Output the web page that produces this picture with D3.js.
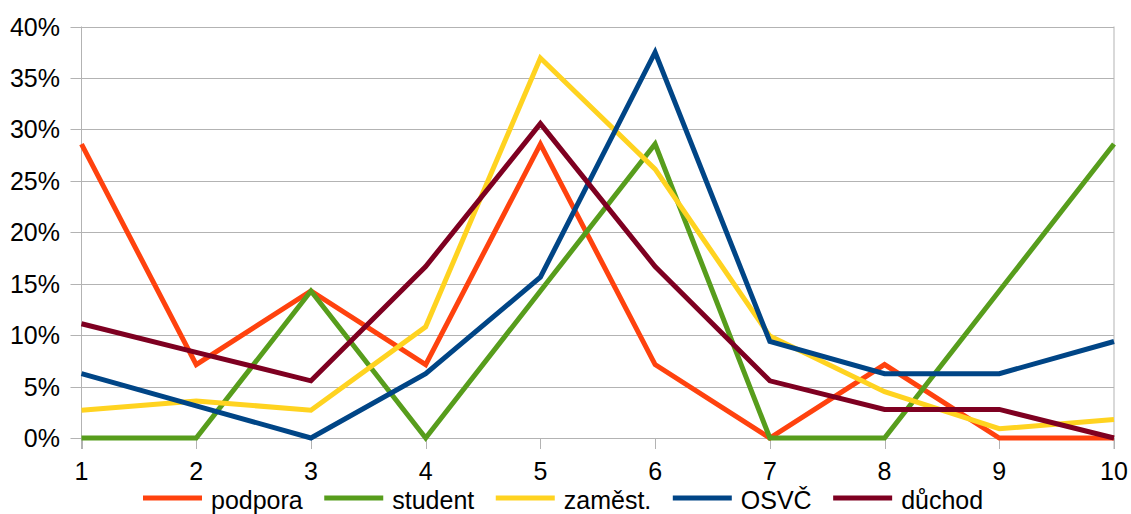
<!DOCTYPE html>
<html>
<head>
<meta charset="utf-8">
<script src="https://cdn.jsdelivr.net/npm/d3@7"></script>
<style>
  body { margin: 0; background: #fff; }
  svg { font-family: "Liberation Sans", Arial, sans-serif; }
</style>
</head>
<body>
<svg id="chart" width="1131" height="514"></svg>
<script>
// categories on the x axis
var categories = [1, 2, 3, 4, 5, 6, 7, 8, 9, 10];
// series values in percent
var podpora = [28.57, 7.14, 14.29, 7.14, 28.57, 7.14, 0, 7.14, 0, 0];
var student = [0, 0, 14.29, 0, 14.29, 28.57, 0, 0, 14.29, 28.57];
var zamest = [2.70, 3.60, 2.70, 10.81, 36.94, 26.13, 9.91, 4.50, 0.90, 1.80];
var osvc = [6.25, 3.13, 0, 6.25, 15.63, 37.5, 9.38, 6.25, 6.25, 9.38];
var duchod = [11.11, 8.33, 5.56, 16.67, 30.56, 16.67, 5.56, 2.78, 2.78, 0];
var seriesNames = ["podpora", "student", "zaměst.", "OSVČ", "důchod"];
var yTicks = [0, 5, 10, 15, 20, 25, 30, 35, 40];

var colors = ["#ff420e", "#579d1c", "#ffd320", "#004586", "#7e0021"];
var allSeries = [podpora, student, zamest, osvc, duchod];

var svg = d3.select("#chart");
var margin = {top: 26.5, left: 81.5, right: 17, bottom: 76};
var width = 1131, height = 514;
var fontSize = 25;

var xScale = d3.scaleLinear()
  .domain([1, 10])
  .range([margin.left, width - margin.right]);
var yScale = d3.scaleLinear()
  .domain([0, 40])
  .range([height - margin.bottom, margin.top]);

// horizontal grid
svg.append("g")
  .selectAll("line")
  .data(yTicks)
  .enter().append("line")
    .attr("x1", margin.left - 11)
    .attr("x2", width - margin.right)
    .attr("y1", function(d) { return Math.round(yScale(d)) + 0.5; })
    .attr("y2", function(d) { return Math.round(yScale(d)) + 0.5; })
    .attr("stroke", "#b3b3b3")
    .attr("stroke-width", 1);

// vertical frame lines left/right
svg.append("line")
  .attr("x1", margin.left).attr("x2", margin.left)
  .attr("y1", yScale(40)).attr("y2", yScale(0) + 11)
  .attr("stroke", "#b3b3b3");
svg.append("line")
  .attr("x1", width - margin.right).attr("x2", width - margin.right)
  .attr("y1", yScale(40)).attr("y2", yScale(0) + 11)
  .attr("stroke", "#b3b3b3");

// x ticks
svg.append("g")
  .selectAll("line")
  .data(categories)
  .enter().append("line")
    .attr("x1", function(d) { return Math.round(xScale(d)) + 0.5; })
    .attr("x2", function(d) { return Math.round(xScale(d)) + 0.5; })
    .attr("y1", yScale(0))
    .attr("y2", yScale(0) + 11)
    .attr("stroke", "#b3b3b3");

// y labels
svg.append("g")
  .selectAll("text")
  .data(yTicks)
  .enter().append("text")
    .attr("x", 60)
    .attr("y", function(d) { return yScale(d); })
    .attr("dy", "0.36em")
    .attr("text-anchor", "end")
    .attr("font-size", fontSize)
    .text(function(d) { return d + "%"; });

// x labels
svg.append("g")
  .selectAll("text")
  .data(categories)
  .enter().append("text")
    .attr("x", function(d) { return xScale(d); })
    .attr("y", 480)
    .attr("text-anchor", "middle")
    .attr("font-size", fontSize)
    .text(function(d) { return d; });

var line = d3.line()
  .x(function(d, i) { return xScale(categories[i]); })
  .y(function(d) { return yScale(d); });

allSeries.forEach(function(s, i) {
  svg.append("path")
    .datum(s)
    .attr("fill", "none")
    .attr("stroke", colors[i])
    .attr("stroke-width", 5)
    .attr("stroke-linejoin", "miter")
    .attr("d", line);
});

// legend
var legend = svg.append("g").attr("transform", "translate(143,498)");
var lx = 0;
seriesNames.forEach(function(name, i) {
  legend.append("line")
    .attr("x1", lx).attr("x2", lx + 59)
    .attr("y1", 0).attr("y2", 0)
    .attr("stroke", colors[i])
    .attr("stroke-width", 5);
  var t = legend.append("text")
    .attr("x", lx + 68)
    .attr("y", 11)
    .attr("font-size", fontSize)
    .text(name);
  lx += 68 + t.node().getComputedTextLength() + 21.5;
});
</script>
</body>
</html>
